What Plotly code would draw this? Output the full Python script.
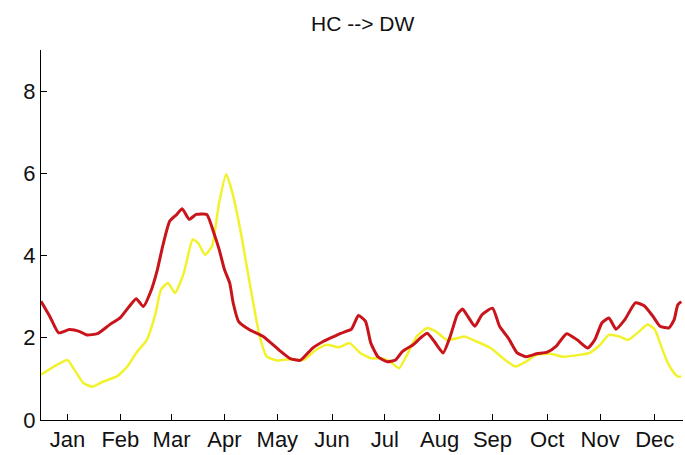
import plotly.graph_objects as go

# Day-of-year sample points and the two daily profiles
red_days = [1, 6, 11, 17, 23, 27, 33, 40, 46, 51, 55, 59, 63, 67, 70, 74, 78, 81, 85, 89,
            95, 99, 102, 105, 108, 110, 113, 119, 127, 136, 142, 148, 155, 161, 167, 171,
            177, 181, 185, 188, 192, 197, 202, 206, 212, 216, 220, 224, 229, 233, 237, 240,
            243, 247, 251, 257, 261, 266, 271, 276, 282, 288, 293, 299, 305, 311, 315, 319,
            323, 327, 332, 338, 343, 348, 352, 357, 360, 362, 364]
red_vals = [2.89, 2.52, 2.12, 2.2, 2.15, 2.07, 2.1, 2.32, 2.49, 2.76, 2.95, 2.76, 3.1, 3.66,
            4.23, 4.84, 5.0, 5.14, 4.88, 5.0, 5.0, 4.55, 4.15, 3.66, 3.33, 2.84, 2.4, 2.2,
            2.03, 1.7, 1.5, 1.45, 1.75, 1.91, 2.03, 2.11, 2.21, 2.54, 2.4, 1.87, 1.54, 1.42,
            1.46, 1.67, 1.83, 1.99, 2.11, 1.91, 1.63, 2.03, 2.56, 2.7, 2.52, 2.28, 2.56, 2.72,
            2.28, 1.99, 1.63, 1.54, 1.61, 1.65, 1.79, 2.1, 1.95, 1.75, 1.95, 2.36, 2.48, 2.21,
            2.44, 2.85, 2.78, 2.52, 2.28, 2.24, 2.44, 2.8, 2.88]

yellow_days = [1, 10, 16, 20, 25, 30, 36, 44, 50, 55, 61, 66, 69, 73, 77, 82, 87, 90, 94, 98,
               102, 106, 109, 114, 119, 125, 129, 135, 142, 150, 157, 163, 170, 176, 182, 188,
               194, 199, 204, 208, 214, 220, 225, 231, 237, 241, 248, 256, 263, 270, 276, 282,
               290, 297, 307, 312, 318, 323, 329, 334, 340, 345, 349, 352, 356, 360, 362, 364]
yellow_vals = [1.1, 1.34, 1.46, 1.22, 0.9, 0.81, 0.93, 1.06, 1.3, 1.63, 1.95, 2.6, 3.17, 3.33,
               3.09, 3.58, 4.39, 4.31, 4.02, 4.23, 5.29, 5.98, 5.61, 4.63, 3.41, 2.03, 1.54,
               1.45, 1.48, 1.46, 1.71, 1.83, 1.77, 1.87, 1.63, 1.5, 1.5, 1.42, 1.26, 1.54, 2.03,
               2.24, 2.15, 1.95, 1.99, 2.03, 1.91, 1.75, 1.5, 1.3, 1.42, 1.59, 1.61, 1.54, 1.59,
               1.63, 1.83, 2.07, 2.03, 1.95, 2.15, 2.32, 2.2, 1.87, 1.42, 1.14, 1.06, 1.05]

month_ticks = [16, 46, 75, 105, 135, 166, 196, 227, 257, 288, 318, 349]
month_labels = ["Jan", "Feb", "Mar", "Apr", "May", "Jun",
                "Jul", "Aug", "Sep", "Oct", "Nov", "Dec"]
y_ticks = [0, 2, 4, 6, 8]
title_text = "HC --> DW"

FONT = "Liberation Sans Narrow, Arial Narrow, Liberation Sans, Arial, sans-serif"

fig = go.Figure()
fig.add_trace(go.Scatter(x=yellow_days, y=yellow_vals, mode="lines",
                         line=dict(color="#f2f22c", width=2.5, shape="spline", smoothing=0.5),
                         showlegend=False))
fig.add_trace(go.Scatter(x=red_days, y=red_vals, mode="lines",
                         line=dict(color="#c8141a", width=3, shape="spline", smoothing=0.5),
                         showlegend=False))

# Title placed as an annotation above the axes
fig.add_annotation(text=title_text, xref="paper", yref="paper", x=0.5, y=1.072,
                   xanchor="center", yanchor="middle", showarrow=False,
                   font=dict(family=FONT, size=21, color="#111"))

fig.update_layout(
    width=685, height=455,
    margin=dict(l=41, r=2, t=50, b=35),
    paper_bgcolor="white", plot_bgcolor="white",
    font=dict(family=FONT, size=22, color="black"),
)
fig.update_xaxes(range=[1, 365], tickvals=month_ticks, ticktext=month_labels,
                 showgrid=False, zeroline=False, showline=True, linecolor="black",
                 linewidth=1, ticks="inside", ticklen=6, tickcolor="black",
                 tickfont=dict(family=FONT, size=22, color="#111"))
fig.update_yaxes(range=[0, 9], tickvals=y_ticks,
                 showgrid=False, zeroline=False, showline=True, linecolor="black",
                 linewidth=1, ticks="inside", ticklen=6, tickcolor="black",
                 tickfont=dict(family=FONT, size=22, color="#111"))

fig.write_html("out.html")
